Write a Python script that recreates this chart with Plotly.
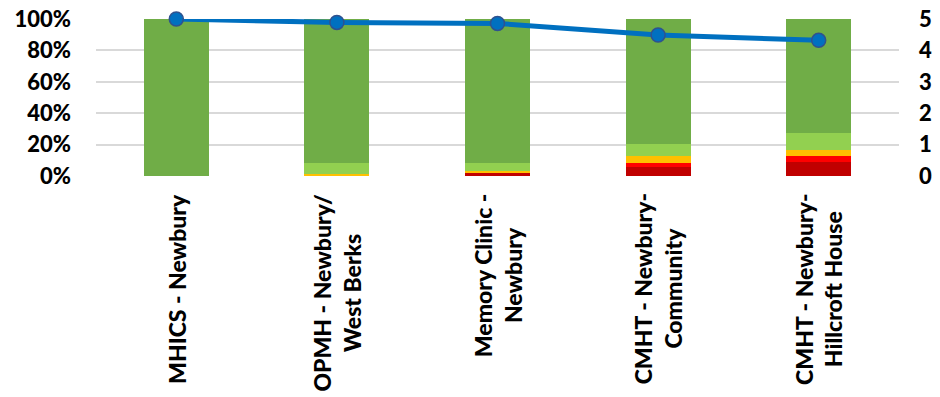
import plotly.graph_objects as go

categories = ["MHICS - Newbury", "OPMH - Newbury/ West Berks", "Memory Clinic - Newbury",
              "CMHT - Newbury- Community", "CMHT - Newbury- Hillcroft House"]
label_lines = [["MHICS - Newbury"], ["OPMH - Newbury/", "West Berks"], ["Memory Clinic -", "Newbury"],
               ["CMHT - Newbury-", "Community"], ["CMHT - Newbury-", "Hillcroft House"]]
dark_red = [0.0, 0.0, 2.3, 5.7, 8.9]
red = [0.0, 0.0, 0.0, 2.5, 3.8]
orange = [0.0, 1.5, 0.6, 4.6, 3.8]
light_green = [0.0, 7.0, 5.2, 7.4, 10.8]
green = [100.0, 91.5, 91.9, 79.8, 72.7]
score = [5.0, 4.89, 4.86, 4.49, 4.32]

fig = go.Figure()
series = [("Very poor", dark_red, "#C00000"), ("Poor", red, "#FF0000"),
          ("Neither", orange, "#FFC000"), ("Good", light_green, "#92D050"),
          ("Very good", green, "#70AD47")]
for name, vals, col in series:
    fig.add_trace(go.Bar(x=categories, y=[v / 100 for v in vals], name=name,
                         marker=dict(color=col, line=dict(width=0)), width=0.405))
fig.add_trace(go.Scatter(x=categories, y=score, yaxis="y2", mode="lines+markers",
                         line=dict(color="#0070C0", width=5),
                         marker=dict(size=14, color="#0070C0", line=dict(color="#2F528F", width=1.5)),
                         cliponaxis=False, name="Score"))

font = dict(family="Lato", size=22, color="#000000", weight=900)
xfont = dict(family="Lato", size=23, color="#000000", weight=900)
for cat, lines in zip(categories, label_lines):
    fig.add_annotation(x=cat, xref="x", y=-0.1, yref="paper", text="<br>".join(lines),
                       textangle=-90, xanchor="center", yanchor="top", align="center",
                       showarrow=False, font=xfont)

fig.update_layout(
    barmode="stack", bargap=0.595, showlegend=False,
    width=940, height=397, margin=dict(l=96, r=41, t=19, b=221),
    paper_bgcolor="white", plot_bgcolor="white",
    xaxis=dict(showticklabels=False, showgrid=False, ticks="", showline=False, automargin=False),
    yaxis=dict(range=[0, 1], dtick=0.2, tickformat=".0%", tickfont=font, automargin=False,
               showgrid=True, gridcolor="#D9D9D9", gridwidth=1.5, zeroline=False, ticks="",
               showline=False, ticklabelstandoff=24),
    yaxis2=dict(range=[0, 5], dtick=1, overlaying="y", side="right", tickfont=font, automargin=False,
                showgrid=False, zeroline=False, ticks="", showline=False, ticklabelstandoff=19),
)
fig.write_html("out.html")
